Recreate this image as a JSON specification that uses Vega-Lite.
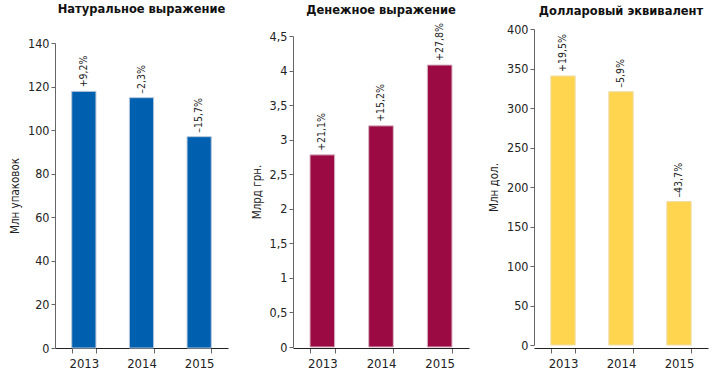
{
  "$schema": "https://vega.github.io/schema/vega-lite/v6.json",
  "background": "white",
  "padding": {"left": 9, "top": 3, "right": 5, "bottom": 2},
  "spacing": 65,
  "bounds": "flush",
  "datasets": {
    "nat": [
      {"year": "2013", "value": 117.8, "label": "+9,2%"},
      {"year": "2014", "value": 114.9, "label": "–2,3%"},
      {"year": "2015", "value": 97.0, "label": "–15,7%"}
    ],
    "money": [
      {"year": "2013", "value": 2.78, "label": "+21,1%"},
      {"year": "2014", "value": 3.2, "label": "+15,2%"},
      {"year": "2015", "value": 4.08, "label": "+27,8%"}
    ],
    "usd": [
      {"year": "2013", "value": 340.5, "label": "+19,5%"},
      {"year": "2014", "value": 320.6, "label": "–5,9%"},
      {"year": "2015", "value": 181.5, "label": "–43,7%"}
    ]
  },
  "config": {
    "view": {"stroke": null},
    "font": "DejaVu Sans Condensed",
    "title": {"font": "DejaVu Sans", "fontSize": 11.5, "fontWeight": "bold", "color": "#111", "anchor": "middle"},
    "axis": {
      "labelFont": "DejaVu Sans Condensed",
      "labelFontSize": 12.5,
      "labelColor": "#222",
      "titleFont": "DejaVu Sans Condensed",
      "titleFontSize": 11.5,
      "titleFontWeight": "normal",
      "titleColor": "#222",
      "domainColor": "#666",
      "tickColor": "#666",
      "grid": false
    },
    "axisX": {"domainColor": "#222", "tickBand": "extent", "tickSize": 5, "labelAngle": 0, "labelPadding": 4, "labelFontSize": 13, "title": null},
    "axisY": {"tickSize": 4, "labelPadding": 2, "titlePadding": 7}
  },
  "hconcat": [
    {
      "title": {"text": "Натуральное выражение", "offset": 14},
      "width": 173,
      "height": 319,
      "data": {"name": "nat"},
      "encoding": {
        "x": {"field": "year", "type": "nominal", "scale": {"paddingInner": 0.58, "paddingOuter": 0.29}},
        "y": {"field": "value", "type": "quantitative", "title": "Млн упаковок",
              "scale": {"domain": [0, 140], "nice": false, "range": [319, 14]},
              "axis": {"values": [0, 20, 40, 60, 80, 100, 120, 140]}}
      },
      "layer": [
        {"mark": {"type": "bar", "color": "#0060B0", "stroke": "#B8C8DC", "strokeWidth": 1}},
        {"mark": {"type": "text", "angle": 270, "align": "left", "baseline": "middle", "dx": 4, "fontSize": 10.5, "color": "#222"},
         "encoding": {"text": {"field": "label"}}}
      ]
    },
    {
      "title": {"text": "Денежное выражение", "offset": 7},
      "width": 176,
      "height": 319,
      "data": {"name": "money"},
      "encoding": {
        "x": {"field": "year", "type": "nominal", "scale": {"paddingInner": 0.58, "paddingOuter": 0.29}},
        "y": {"field": "value", "type": "quantitative", "title": "Млрд грн.",
              "scale": {"domain": [0, 4.5], "nice": false, "range": [318, 7]},
              "axis": {"values": [0, 0.5, 1, 1.5, 2, 2.5, 3, 3.5, 4, 4.5], "format": "~g", "labelExpr": "replace(datum.label, '.', ',')"}}
      },
      "layer": [
        {"mark": {"type": "bar", "color": "#9B0A42", "stroke": "#D8B8C4", "strokeWidth": 1}},
        {"mark": {"type": "text", "angle": 270, "align": "left", "baseline": "middle", "dx": 4, "fontSize": 10.5, "color": "#222"},
         "encoding": {"text": {"field": "label"}}}
      ]
    },
    {
      "title": {"text": "Долларовый эквивалент", "offset": 6},
      "width": 174,
      "height": 319,
      "data": {"name": "usd"},
      "encoding": {
        "x": {"field": "year", "type": "nominal", "scale": {"paddingInner": 0.58, "paddingOuter": 0.29}},
        "y": {"field": "value", "type": "quantitative", "title": "Млн дол.",
              "scale": {"domain": [0, 400], "nice": false, "range": [316, 0]},
              "axis": {"values": [0, 50, 100, 150, 200, 250, 300, 350, 400]}}
      },
      "layer": [
        {"mark": {"type": "bar", "color": "#FFD54F", "stroke": "#EEDDA8", "strokeWidth": 1}},
        {"mark": {"type": "text", "angle": 270, "align": "left", "baseline": "middle", "dx": 4, "fontSize": 10.5, "color": "#222"},
         "encoding": {"text": {"field": "label"}}}
      ]
    }
  ]
}
